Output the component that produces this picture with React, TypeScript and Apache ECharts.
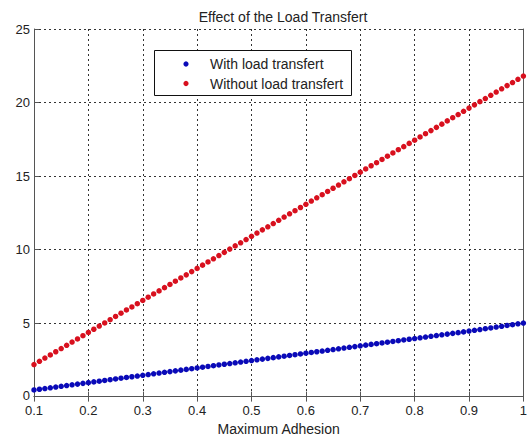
import React, { useEffect, useRef } from "react";
import * as echarts from "echarts";

const titleText = "Effect of the Load Transfert";
const xName = "Maximum Adhesion";
const seriesNames = ["With load transfert", "Without load transfert"];

const adhesion = [
  0.10, 0.11, 0.12, 0.13, 0.14, 0.15, 0.16, 0.17, 0.18, 0.19,
  0.20, 0.21, 0.22, 0.23, 0.24, 0.25, 0.26, 0.27, 0.28, 0.29,
  0.30, 0.31, 0.32, 0.33, 0.34, 0.35, 0.36, 0.37, 0.38, 0.39,
  0.40, 0.41, 0.42, 0.43, 0.44, 0.45, 0.46, 0.47, 0.48, 0.49,
  0.50, 0.51, 0.52, 0.53, 0.54, 0.55, 0.56, 0.57, 0.58, 0.59,
  0.60, 0.61, 0.62, 0.63, 0.64, 0.65, 0.66, 0.67, 0.68, 0.69,
  0.70, 0.71, 0.72, 0.73, 0.74, 0.75, 0.76, 0.77, 0.78, 0.79,
  0.80, 0.81, 0.82, 0.83, 0.84, 0.85, 0.86, 0.87, 0.88, 0.89,
  0.90, 0.91, 0.92, 0.93, 0.94, 0.95, 0.96, 0.97, 0.98, 0.99,
  1.00,
];

const withTransfer = [
  0.45, 0.50, 0.55, 0.60, 0.65, 0.70, 0.75, 0.80, 0.85, 0.90,
  0.95, 1.00, 1.05, 1.10, 1.15, 1.20, 1.25, 1.30, 1.35, 1.40,
  1.45, 1.50, 1.55, 1.60, 1.65, 1.70, 1.75, 1.80, 1.85, 1.90,
  1.95, 2.00, 2.05, 2.10, 2.15, 2.20, 2.25, 2.30, 2.35, 2.40,
  2.45, 2.50, 2.55, 2.60, 2.65, 2.70, 2.75, 2.80, 2.85, 2.90,
  2.95, 3.00, 3.05, 3.10, 3.15, 3.20, 3.25, 3.30, 3.35, 3.40,
  3.45, 3.50, 3.55, 3.60, 3.65, 3.70, 3.75, 3.80, 3.85, 3.90,
  3.95, 4.00, 4.05, 4.10, 4.15, 4.20, 4.25, 4.30, 4.35, 4.40,
  4.46, 4.51, 4.56, 4.62, 4.67, 4.73, 4.78, 4.84, 4.89, 4.95,
  5.00,
];

const withoutTransfer = [
  2.18, 2.40, 2.62, 2.83, 3.05, 3.27, 3.49, 3.71, 3.92, 4.14,
  4.36, 4.58, 4.80, 5.01, 5.23, 5.45, 5.67, 5.89, 6.10, 6.32,
  6.54, 6.76, 6.98, 7.19, 7.41, 7.63, 7.85, 8.07, 8.28, 8.50,
  8.72, 8.94, 9.16, 9.37, 9.59, 9.81, 10.03, 10.25, 10.46, 10.68,
  10.90, 11.12, 11.34, 11.55, 11.77, 11.99, 12.21, 12.43, 12.64, 12.86,
  13.08, 13.30, 13.52, 13.73, 13.95, 14.17, 14.39, 14.61, 14.82, 15.04,
  15.26, 15.48, 15.70, 15.91, 16.13, 16.35, 16.57, 16.79, 17.00, 17.22,
  17.44, 17.66, 17.88, 18.09, 18.31, 18.53, 18.75, 18.97, 19.18, 19.40,
  19.62, 19.84, 20.06, 20.27, 20.49, 20.71, 20.93, 21.15, 21.36, 21.58,
  21.80,
];

const FONT = "'Liberation Sans', Arial, sans-serif";
const BLUE = "#0a0ab8";
const RED = "#d8101e";

export default function App() {
  const ref = useRef<HTMLDivElement>(null);
  useEffect(() => {
    if (!ref.current) return;
    const chart = echarts.init(ref.current, undefined, { renderer: "svg" });
    const spine = { show: true, lineStyle: { color: "#555", width: 1 } };
    const tick = { show: true, inside: true, length: 5, lineStyle: { color: "#555" } };
    const grid = { show: true, lineStyle: { color: "#333", type: [2, 3] as any, width: 1 } };
    const labelStyle = { color: "#222", fontFamily: FONT, fontSize: 13, lineHeight: 12 };
    chart.setOption({
      animation: false,
      backgroundColor: "#fff",
      title: {
        text: titleText,
        left: 278,
        top: 5,
        textAlign: "center",
        textStyle: { color: "#222", fontFamily: FONT, fontSize: 14, fontWeight: "normal" },
      },
      grid: { left: 34, right: 6, top: 29, bottom: 43, containLabel: false },
      xAxis: [
        {
          type: "value",
          min: 0.1,
          max: 1,
          interval: 0.1,
          name: xName,
          nameLocation: "middle",
          nameGap: 24,
          nameTextStyle: { color: "#222", fontFamily: FONT, fontSize: 14 },
          axisLine: spine,
          axisTick: tick,
          splitLine: grid,
          axisLabel: {
            ...labelStyle,
            margin: 8,
            formatter: (v: number) => String(+v.toFixed(1)),
          },
        },
        {
          type: "value",
          position: "top",
          min: 0.1,
          max: 1,
          interval: 0.1,
          axisLine: spine,
          axisTick: tick,
          splitLine: { show: false },
          axisLabel: { show: false },
        },
      ],
      yAxis: [
        {
          type: "value",
          min: 0,
          max: 25,
          interval: 5,
          axisLine: spine,
          axisTick: tick,
          splitLine: grid,
          axisLabel: {
            ...labelStyle,
            margin: 4,
            formatter: (v: number) => (v === 0 ? "{z|0}" : String(v)),
            rich: { z: { ...labelStyle, padding: [0, 0, 3, 0] } },
          },
        },
        {
          type: "value",
          position: "right",
          min: 0,
          max: 25,
          interval: 5,
          axisLine: spine,
          axisTick: tick,
          splitLine: { show: false },
          axisLabel: { show: false },
        },
      ],
      series: [
        {
          name: seriesNames[0],
          type: "scatter",
          symbol: "circle",
          symbolSize: 5.5,
          itemStyle: { color: BLUE, opacity: 1 },
          data: adhesion.map((x, i) => [x, withTransfer[i]]),
        },
        {
          name: seriesNames[1],
          type: "scatter",
          symbol: "circle",
          symbolSize: 5.5,
          itemStyle: { color: RED, opacity: 1 },
          data: adhesion.map((x, i) => [x, withoutTransfer[i]]),
        },
      ],
      graphic: [
        {
          type: "rect",
          z: 100,
          shape: { x: 154.5, y: 50.5, width: 197, height: 45 },
          style: { fill: "#fff", stroke: "#111", lineWidth: 1 },
        },
        { type: "circle", z: 101, shape: { cx: 186, cy: 64, r: 2.6 }, style: { fill: BLUE } },
        { type: "circle", z: 101, shape: { cx: 186, cy: 83.5, r: 2.6 }, style: { fill: RED } },
        {
          type: "text",
          z: 101,
          x: 210,
          y: 64,
          style: { text: seriesNames[0], fill: "#222", font: `14px ${FONT}`, verticalAlign: "middle" },
        },
        {
          type: "text",
          z: 101,
          x: 210,
          y: 83.5,
          style: { text: seriesNames[1], fill: "#222", font: `14px ${FONT}`, verticalAlign: "middle" },
        },
      ],
    });
    return () => chart.dispose();
  }, []);
  return (
    <div
      ref={ref}
      style={{ position: "fixed", left: 0, top: 0, width: 530, height: 441 }}
    />
  );
}
